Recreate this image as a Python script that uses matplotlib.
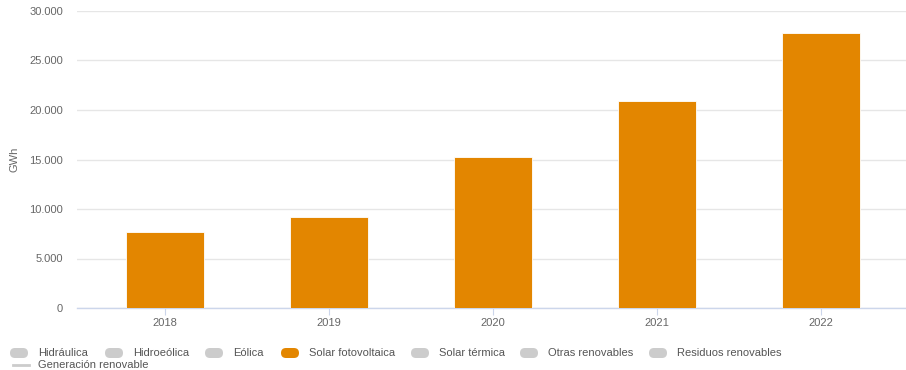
import matplotlib
matplotlib.use("Agg")
import matplotlib.pyplot as plt
from matplotlib.patches import FancyBboxPatch
from matplotlib.lines import Line2D
from matplotlib.ticker import FuncFormatter

years = ["2018", "2019", "2020", "2021", "2022"]
solar_pv = [7680, 9230, 15250, 20930, 27780]

legend_labels = ["Hidráulica", "Hidroeólica", "Eólica", "Solar fotovoltaica",
                 "Solar térmica", "Otras renovables", "Residuos renovables"]
legend_active = "Solar fotovoltaica"
line_label = "Generación renovable"

ORANGE = "#e38600"
GRID = "#e6e6e6"
AXIS = "#ccd6eb"
TEXT = "#666666"

plt.rcParams["font.family"] = ["Liberation Sans", "DejaVu Sans"]

W, H = 906, 370
fig = plt.figure(figsize=(W / 100, H / 100), dpi=100)
ax = fig.add_axes([77 / W, 1 - 308 / H, 829 / W, 297 / H])

x = list(range(len(years)))
ax.bar(x, solar_pv, width=0.476, color=ORANGE, edgecolor="white",
       linewidth=0.6, zorder=3)

ax.set_xlim(-0.537, 4.518)
ax.set_ylim(0, 30000)
ax.set_yticks(range(0, 30001, 5000))
ax.yaxis.set_major_formatter(FuncFormatter(lambda v, _: f"{int(v):,}".replace(",", ".")))
ax.set_xticks(x)
ax.set_xticklabels(years)

ax.grid(axis="y", color=GRID, linewidth=1, zorder=0)
for s in ["top", "right", "left"]:
    ax.spines[s].set_visible(False)
ax.spines["bottom"].set_color(AXIS)
ax.spines["bottom"].set_linewidth(1)

ax.tick_params(axis="y", length=0, pad=10, labelsize=8, labelcolor=TEXT)
ax.tick_params(axis="x", length=5, color=AXIS, pad=2, labelsize=8, labelcolor=TEXT)
ax.set_ylabel("GWh", fontsize=8, color=TEXT)
ax.yaxis.set_label_coords(-57 / 829, 0.5)

# legend drawn by hand, in display pixels (origin bottom-left)
pill_x = [10, 105, 205, 281, 411, 520, 649]
row_y = 353
for lx, lab in zip(pill_x, legend_labels):
    col = ORANGE if lab == legend_active else "#cccccc"
    fig.patches.append(FancyBboxPatch((lx, H - row_y - 5), 18, 10,
                                      boxstyle="round,pad=0,rounding_size=5",
                                      transform=None, facecolor=col,
                                      edgecolor="none"))
    fig.text((lx + 28) / W, 1 - row_y / H, lab, fontsize=8, color="#555555",
             va="center", ha="left")

fig.add_artist(Line2D([13, 29], [H - 365, H - 365], color="#cccccc",
                      linewidth=2, transform=None))
fig.text(38 / W, 1 - 365 / H, line_label, fontsize=8, color="#555555",
         va="center", ha="left")

fig.savefig("out.png", dpi=100)
